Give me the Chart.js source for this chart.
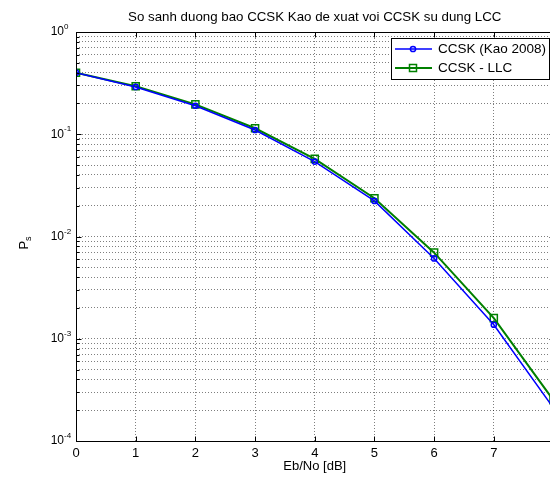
<!DOCTYPE html>
<html>
<head>
<meta charset="utf-8">
<title>So sanh duong bao CCSK</title>
<script src="https://cdn.jsdelivr.net/npm/chart.js@4.4.0/dist/chart.umd.min.js"></script>
<style>
    html, body { margin: 0; padding: 0; background: #fff; overflow: hidden; }
    /* the original figure is a little wider than the window, its right edge is cut off */
    #wrap { position: relative; width: 560px; height: 477px; }
</style>
</head>
<body>
<div id="wrap"><canvas id="berChart"></canvas></div>
<script>
// Data
const ebNo = [0, 1, 2, 3, 4, 5, 6, 7, 8];
const psKao = [0.40, 0.29, 0.19, 0.11, 0.054, 0.0223, 0.0061, 0.00137, 0.00021];
const psLlc = [0.40, 0.295, 0.196, 0.1145, 0.0574, 0.0237, 0.00695, 0.00159, 0.00025];

const seriesNames = ['CCSK (Kao 2008)', 'CCSK - LLC'];
const seriesColors = ['#0000ff', '#008000'];

const xTickValues = [0, 1, 2, 3, 4, 5, 6, 7, 8];
const yDecades = [-4, -3, -2, -1, 0];
const yMantissas = [1, 2, 3, 4, 5, 6, 7, 8, 9];

const chartTitle = 'So sanh duong bao CCSK Kao de xuat voi CCSK su dung LCC';
const xTitle = 'Eb/No [dB]';

const FONT = '"Liberation Sans", Arial, sans-serif';

// every 1..9 x 10^n value inside the axis range (log grid)
function buildLogTicks() {
    const ticks = [];
    yDecades.forEach(function(e) {
        yMantissas.forEach(function(m) {
            const v = m * Math.pow(10, e);
            if (v <= 1 + 1e-12) ticks.push({ value: v, major: m === 1 });
        });
    });
    return ticks;
}

function crisp(v) {
    return Math.round(v) + 0.5;
}

// Box, inward ticks, exponent labels, titles and legend, MATLAB style
const matlabFrame = {
    id: 'matlabFrame',
    afterDraw(chart) {
        const ctx = chart.ctx;
        const area = chart.chartArea;
        const xs = chart.scales.x;
        const ys = chart.scales.y;
        const L = crisp(area.left), R = crisp(area.right);
        const T = crisp(area.top), B = crisp(area.bottom);

        ctx.save();
        ctx.strokeStyle = '#000';
        ctx.lineWidth = 1;

        // axes box
        ctx.beginPath();
        ctx.rect(L, T, R - L, B - T);
        ctx.stroke();

        // inward tick marks
        ctx.beginPath();
        xTickValues.forEach(function(v) {
            const px = crisp(xs.getPixelForValue(v));
            ctx.moveTo(px, B); ctx.lineTo(px, B - 5);
            ctx.moveTo(px, T); ctx.lineTo(px, T + 5);
        });
        buildLogTicks().forEach(function(t) {
            const py = crisp(ys.getPixelForValue(t.value));
            const len = t.major ? 5 : 3;
            ctx.moveTo(L, py); ctx.lineTo(L + len, py);
            ctx.moveTo(R, py); ctx.lineTo(R - len, py);
        });
        ctx.stroke();

        // y tick labels: 10 with raised exponent
        ctx.fillStyle = '#000';
        yDecades.forEach(function(e) {
            const py = ys.getPixelForValue(Math.pow(10, e));
            ctx.font = '12px ' + FONT;
            ctx.textAlign = 'right';
            ctx.textBaseline = 'middle';
            ctx.fillText('10', area.left - 12, py);
            ctx.font = '8px ' + FONT;
            ctx.textAlign = 'left';
            ctx.textBaseline = 'alphabetic';
            ctx.fillText(String(e), area.left - 12, py - 3);
        });

        // title
        ctx.font = '13.3px ' + FONT;
        ctx.textAlign = 'center';
        ctx.textBaseline = 'middle';
        ctx.fillText(chartTitle, (area.left + area.right) / 2, 17);

        // y label P_s, rotated
        ctx.save();
        ctx.translate(28, 243);
        ctx.rotate(-Math.PI / 2);
        ctx.font = '13px ' + FONT;
        const wP = ctx.measureText('P').width;
        ctx.font = '9px ' + FONT;
        const wS = ctx.measureText('s').width;
        ctx.textAlign = 'left';
        ctx.textBaseline = 'alphabetic';
        ctx.font = '13px ' + FONT;
        ctx.fillText('P', -(wP + wS) / 2, 0);
        ctx.font = '9px ' + FONT;
        ctx.fillText('s', -(wP + wS) / 2 + wP, 3);
        ctx.restore();

        // legend box
        const box = { x: 391.5, y: 38.5, w: 158, h: 41 };
        ctx.fillStyle = '#fff';
        ctx.fillRect(box.x, box.y, box.w, box.h);
        ctx.strokeStyle = '#000';
        ctx.strokeRect(box.x, box.y, box.w, box.h);

        const rows = [49, 68];
        rows.forEach(function(ry, i) {
            ctx.strokeStyle = seriesColors[i];
            ctx.lineWidth = i === 0 ? 1.5 : 2;
            ctx.beginPath();
            ctx.moveTo(395, ry); ctx.lineTo(432, ry);
            ctx.stroke();
            ctx.lineWidth = 1.5;
            ctx.beginPath();
            if (i === 0) {
                ctx.arc(413, ry, 2.6, 0, Math.PI * 2);
            } else {
                ctx.rect(409.5, ry - 3.5, 7, 7);
            }
            ctx.stroke();
            ctx.fillStyle = '#000';
            ctx.font = '13.5px ' + FONT;
            ctx.textAlign = 'left';
            ctx.textBaseline = 'middle';
            ctx.fillText(seriesNames[i], 438, ry);
        });

        ctx.restore();
    }
};

const gridStyle = {
    color: 'rgba(0, 0, 0, 0.5)',
    lineWidth: 1,
    drawTicks: false
};

document.addEventListener('DOMContentLoaded', function() {
    const ctx = document.getElementById('berChart');

    new Chart(ctx, {
        type: 'line',
        data: {
            labels: ebNo,
            datasets: [{
                label: seriesNames[0],
                data: ebNo.map(function(x, i) { return { x: x, y: psKao[i] }; }),
                borderColor: seriesColors[0],
                borderWidth: 1.5,
                pointStyle: 'circle',
                pointRadius: 2.6,
                pointBorderWidth: 1.5,
                pointBackgroundColor: 'rgba(0,0,0,0)',
                pointBorderColor: seriesColors[0],
                tension: 0
            }, {
                label: seriesNames[1],
                data: ebNo.map(function(x, i) { return { x: x, y: psLlc[i] }; }),
                borderColor: seriesColors[1],
                borderWidth: 2,
                pointStyle: 'rect',
                pointRadius: 5,
                pointBorderWidth: 1.5,
                pointBackgroundColor: 'rgba(0,0,0,0)',
                pointBorderColor: seriesColors[1],
                tension: 0
            }]
        },
        options: {
            responsive: true,
            maintainAspectRatio: false,
            animation: false,
            devicePixelRatio: 1,
            layout: { padding: { left: 0, top: 32, right: 5, bottom: 0 } },
            plugins: {
                legend: { display: false },
                title: { display: false },
                tooltip: { enabled: false }
            },
            scales: {
                x: {
                    type: 'linear',
                    min: 0,
                    max: 8,
                    afterFit: function(scale) { scale.height = 36; },
                    afterBuildTicks: function(scale) {
                        scale.ticks = xTickValues.map(function(v) { return { value: v }; });
                    },
                    ticks: {
                        color: '#000',
                        font: { family: FONT, size: 13 },
                        padding: 5,
                        maxRotation: 0,
                        autoSkip: false,
                        // the label at 8 falls outside the window in the original
                        callback: function(value) { return value === 8 ? '' : String(value); }
                    },
                    grid: gridStyle,
                    border: { display: false, dash: [1, 2] },
                    title: {
                        display: true,
                        text: xTitle,
                        color: '#000',
                        font: { family: FONT, size: 13 },
                        padding: { top: 0, bottom: 3 }
                    }
                },
                y: {
                    type: 'logarithmic',
                    min: 1e-4,
                    max: 1,
                    afterFit: function(scale) { scale.width = 76; },
                    afterBuildTicks: function(scale) { scale.ticks = buildLogTicks(); },
                    ticks: { display: false },
                    grid: gridStyle,
                    border: { display: false, dash: [1, 2] }
                }
            }
        },
        plugins: [matlabFrame]
    });
});
</script>
</body>
</html>
